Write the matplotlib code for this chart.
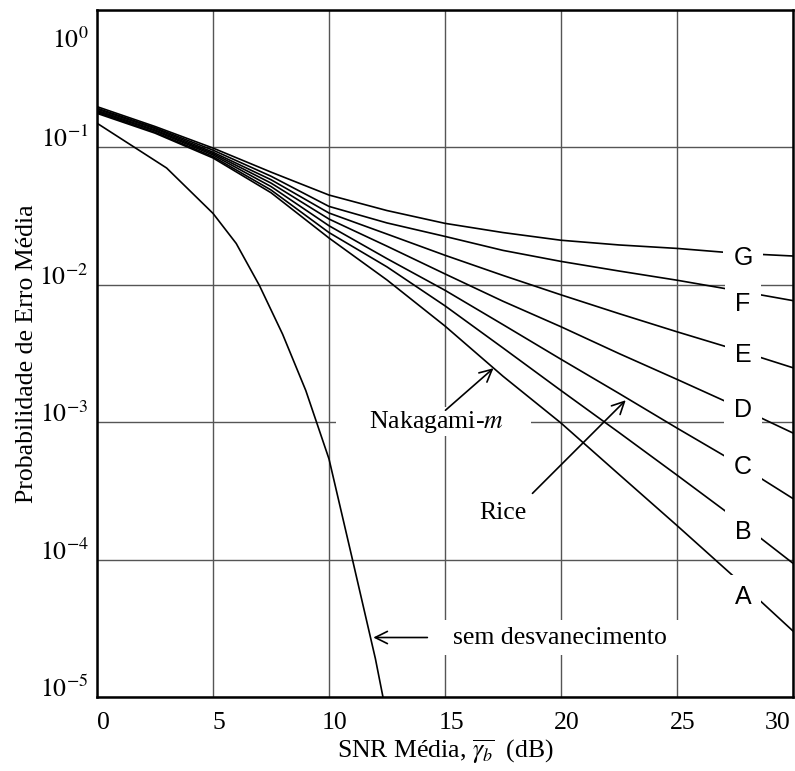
import matplotlib
matplotlib.use('Agg')
import matplotlib.pyplot as plt
import matplotlib.transforms as mtransforms

plt.rcParams['mathtext.fontset'] = 'stix'
plt.rcParams['font.family'] = ['Liberation Serif', 'DejaVu Serif']

# ---------------- data ----------------
snr_fade = [0, 2.5, 5, 7.5, 10, 12.5, 15, 17.5, 20, 22.5, 25, 27.5, 30]

pb_A = [0.177, 0.127, 0.0838, 0.0468, 0.0219, 0.01084, 5.01e-3, 2.16e-3,
        9.86e-4, 4.17e-4, 1.77e-4, 7.4e-5, 3.02e-5]
pb_B = [0.180, 0.129, 0.0857, 0.0490, 0.0240, 0.0135, 7.03e-3, 3.47e-3,
        1.70e-3, 8.41e-4, 4.12e-4, 2.0e-4, 9.4e-5]
pb_C = [0.183, 0.132, 0.0881, 0.0519, 0.0269, 0.0155, 9.12e-3, 5.13e-3,
        2.87e-3, 1.62e-3, 9.06e-4, 5.13e-4, 2.78e-4]
pb_D = [0.186, 0.134, 0.0902, 0.0550, 0.0301, 0.0191, 0.0120, 7.59e-3,
        4.95e-3, 3.16e-3, 2.05e-3, 1.32e-3, 8.34e-4]
pb_E = [0.190, 0.137, 0.0923, 0.0582, 0.0333, 0.0234, 0.0164, 0.0117,
        8.45e-3, 6.17e-3, 4.55e-3, 3.39e-3, 2.49e-3]
pb_F = [0.193, 0.139, 0.0955, 0.0617, 0.0372, 0.0282, 0.0225, 0.0178,
        0.0148, 0.0126, 0.0108, 9.12e-3, 7.67e-3]
pb_G = [0.198, 0.142, 0.0989, 0.0661, 0.0450, 0.0347, 0.0280, 0.0240,
        0.0211, 0.0195, 0.0184, 0.0170, 0.0162]

snr_nofade = [0, 3, 5, 6, 7, 8, 9, 10, 11, 12, 12.5]
pb_nofade = [0.150, 0.0708, 0.0331, 0.0200, 0.00989, 0.00437, 0.00170,
             5.4e-4, 1.02e-4, 1.9e-5, 7.1e-6]

curve_names = ['A', 'B', 'C', 'D', 'E', 'F', 'G']
curve_values = [pb_A, pb_B, pb_C, pb_D, pb_E, pb_F, pb_G]
name_snr = 27.85
name_pb = [5.3e-5, 1.58e-4, 4.72e-4, 1.22e-3, 3.07e-3, 7.23e-3, 0.0158]

xticks = [0, 5, 10, 15, 20, 25, 30]
xticklabels = ['0', '5', '10', '15', '20', '25', '30']
yticks = [1e0, 1e-1, 1e-2, 1e-3, 1e-4, 1e-5]
yticklabels = [r'$10^{0}$', r'$10^{-1}$', r'$10^{-2}$', r'$10^{-3}$',
               r'$10^{-4}$', r'$10^{-5}$']

# ---------------- figure ----------------
W, H = 795, 771
fig = plt.figure(figsize=(W / 100, H / 100), dpi=100)
L, R, T, B = 97, 793, 10, 697
ax = fig.add_axes([L / W, 1 - B / H, (R - L) / W, (B - T) / H])
ax.set_yscale('log')
ax.set_xlim(0, 30)
ax.set_ylim(1e-5, 1)

ax.set_axisbelow(True)
ax.grid(True, which='major', color='#555555', lw=1.0, zorder=0.5)
ax.grid(False, which='minor')
ax.minorticks_off()

for vals in curve_values:
    ax.plot(snr_fade, vals, color='black', lw=1.2, zorder=3)
ax.plot(snr_nofade, pb_nofade, color='black', lw=1.2, zorder=3)

for name, yv in zip(curve_names, name_pb):
    ax.text(name_snr, yv, name, family='Liberation Sans', fontsize=18,
            ha='center', va='center', zorder=6,
            bbox=dict(boxstyle='square,pad=0.4', fc='white', ec='none'))

# annotations
ax.text(14.5, 10 ** -2.995, '     Nakagami-$m$     ', fontsize=18.5,
        ha='center', va='center', zorder=6,
        bbox=dict(boxstyle='square,pad=0.05', fc='white', ec='none'))
ax.annotate('', xy=(17.09, 10 ** -2.607), xytext=(15.02, 10 ** -2.913),
            arrowprops=dict(arrowstyle='->', color='black', lw=1.2,
                            mutation_scale=22, shrinkA=0, shrinkB=0),
            zorder=7)

ax.text(17.5, 10 ** -3.66, 'Rice', fontsize=18.5, ha='center', va='center',
        zorder=6)
ax.annotate('', xy=(22.79, 10 ** -2.84), xytext=(18.77, 10 ** -3.518),
            arrowprops=dict(arrowstyle='->', color='black', lw=1.2,
                            mutation_scale=22, shrinkA=0, shrinkB=0),
            zorder=7)

ax.text(19.94, 10 ** -4.567, '  sem desvanecimento  ', fontsize=18.5,
        ha='center', va='center', zorder=6,
        bbox=dict(boxstyle='square,pad=0.25', fc='white', ec='none'))
ax.annotate('', xy=(11.91, 10 ** -4.567), xytext=(14.24, 10 ** -4.567),
            arrowprops=dict(arrowstyle='->', color='black', lw=1.2,
                            mutation_scale=22, shrinkA=0, shrinkB=0),
            zorder=7)

# ticks
ax.set_xticks(xticks)
ax.set_xticklabels(xticklabels, fontsize=18.5)
ax.set_yticks(yticks)
ax.set_yticklabels(yticklabels, fontsize=18.5, va='baseline')
ax.tick_params(axis='both', length=0)
ax.tick_params(axis='x', pad=11)
ax.tick_params(axis='y', pad=6)

for i, lbl in enumerate(ax.get_xticklabels()):
    if i == len(xticks) - 1:
        off = mtransforms.ScaledTranslation(-0.15, 0, fig.dpi_scale_trans)
    else:
        off = mtransforms.ScaledTranslation(0.06, 0, fig.dpi_scale_trans)
    lbl.set_transform(lbl.get_transform() + off)
ylbls = ax.get_yticklabels()
ylbls[0].set_transform(ylbls[0].get_transform() +
                       mtransforms.ScaledTranslation(0, -0.38, fig.dpi_scale_trans))

for sp in ax.spines.values():
    sp.set_linewidth(1.8)
    sp.set_zorder(8)

ax.set_xlabel(r'SNR Média, $\overline{\gamma_b}$  (dB)', fontsize=18.5)
ax.xaxis.set_label_coords(0.5, (B - 737) / (B - T))
ax.set_ylabel('Probabilidade de Erro Média', fontsize=18.5)
ax.yaxis.set_label_coords((38 - L) / (R - L), 0.5)

fig.savefig('out.png', dpi=100)
